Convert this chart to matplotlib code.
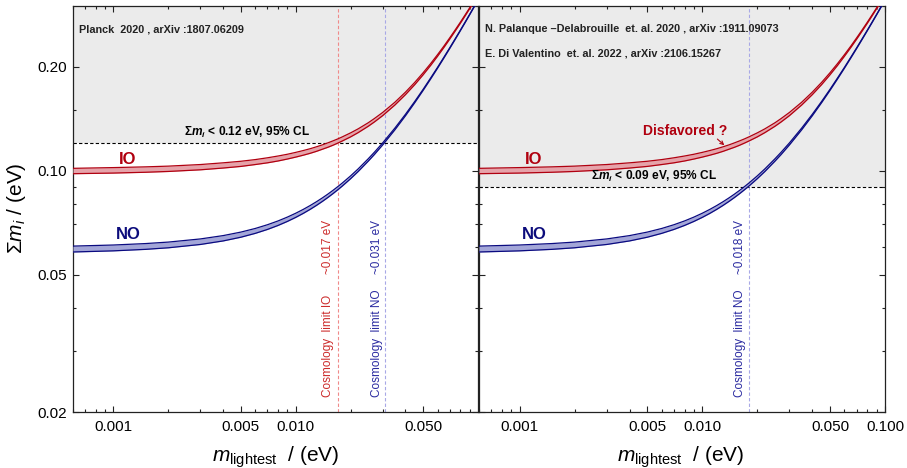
import matplotlib
matplotlib.use("Agg")
import matplotlib.pyplot as plt
from matplotlib.ticker import NullFormatter

plt.rcParams["font.family"] = ["Liberation Sans", "DejaVu Sans"]
plt.rcParams["mathtext.fontset"] = "custom"
plt.rcParams["mathtext.rm"] = "Liberation Sans"
plt.rcParams["mathtext.it"] = "Liberation Sans:italic"
plt.rcParams["mathtext.bf"] = "Liberation Sans:bold"
plt.rcParams["mathtext.bfit"] = "Liberation Sans:italic:bold"

# ── Data ─────────────────────────────────────────────────────────────────────
m_lightest = [0.0006, 0.001, 0.0015, 0.002, 0.003, 0.004, 0.005, 0.006, 0.007, 0.008,
              0.009, 0.01, 0.011, 0.012, 0.013, 0.014, 0.015, 0.016, 0.017, 0.018,
              0.02, 0.022, 0.025, 0.027, 0.03, 0.035, 0.04, 0.045, 0.05, 0.055,
              0.06, 0.065, 0.07, 0.075, 0.08, 0.085, 0.09, 0.095, 0.1]
no_low = [0.05815, 0.05859, 0.05918, 0.0598, 0.06114, 0.0626, 0.06417, 0.06584, 0.06759, 0.06941,
          0.0713, 0.07324, 0.07523, 0.07727, 0.07935, 0.08147, 0.08362, 0.0858, 0.08802, 0.09025,
          0.09481, 0.09945, 0.1066, 0.1114, 0.1188, 0.1314, 0.1443, 0.1575, 0.1709, 0.1845,
          0.1982, 0.2121, 0.2261, 0.2402, 0.2544, 0.2686, 0.2830, 0.2974, 0.3118]
no_high = [0.06048, 0.06092, 0.06151, 0.06212, 0.06344, 0.06487, 0.0664, 0.06803, 0.06975, 0.07153,
           0.07339, 0.0753, 0.07726, 0.07927, 0.08132, 0.08341, 0.08553, 0.08769, 0.08988, 0.09209,
           0.0966, 0.1012, 0.1083, 0.1131, 0.1204, 0.1329, 0.1457, 0.1588, 0.1721, 0.1857,
           0.1993, 0.2132, 0.2271, 0.2412, 0.2553, 0.2695, 0.2838, 0.2982, 0.3126]
io_low = [0.09803, 0.09844, 0.09897, 0.0995, 0.1006, 0.1018, 0.1029, 0.1042, 0.1054, 0.1067,
          0.1081, 0.1095, 0.1109, 0.1123, 0.1138, 0.1154, 0.1169, 0.1185, 0.1202, 0.1219,
          0.1253, 0.1289, 0.1345, 0.1384, 0.1444, 0.155, 0.1661, 0.1776, 0.1896, 0.2019,
          0.2146, 0.2275, 0.2406, 0.2539, 0.2673, 0.2809, 0.2947, 0.3085, 0.3225]
io_high = [0.1016, 0.1021, 0.1026, 0.1031, 0.1042, 0.1054, 0.1065, 0.1077, 0.109, 0.1103,
           0.1116, 0.113, 0.1144, 0.1158, 0.1173, 0.1188, 0.1204, 0.122, 0.1236, 0.1253,
           0.1287, 0.1322, 0.1377, 0.1416, 0.1475, 0.1579, 0.1689, 0.1803, 0.1922, 0.2044,
           0.2169, 0.2296, 0.2427, 0.2559, 0.2692, 0.2828, 0.2964, 0.3102, 0.3241]

panel_limits = [0.12, 0.09]           # cosmological bound on sum of masses
panel_refs = [
    ["Planck  2020 , arXiv :1807.06209"],
    ["N. Palanque \u2013Delabrouille  et. al. 2020 , arXiv :1911.09073",
     "E. Di Valentino  et. al. 2022 , arXiv :2106.15267"],
]
io_limits = [0.017, None]
no_limits = [0.031, 0.018]

x_major = [[0.001, 0.005, 0.01, 0.05], [0.001, 0.005, 0.01, 0.05, 0.1]]
x_major_labels = [["0.001", "0.005", "0.010", "0.050"],
                  ["0.001", "0.005", "0.010", "0.050", "0.100"]]
y_major = [0.02, 0.05, 0.1, 0.2]
y_major_labels = ["0.02", "0.05", "0.10", "0.20"]
y_minor = [0.03, 0.04, 0.06, 0.07, 0.08, 0.09, 0.15]

# ── Styles ───────────────────────────────────────────────────────────────────
io_edge, io_fill = "#b00010", "#e6a3aa"
no_edge, no_fill = "#0a0a80", "#a3a6d8"
io_text, no_text = "#b0000f", "#0c0c7c"
io_vline, no_vline = "#f08a8a", "#a8a8e6"
io_vtext, no_vtext = "#cc2a2a", "#2a2aa0"
shade = "#ebebeb"

x_minor = [k * 10.0**e for e in (-4, -3, -2) for k in range(2, 10)
           if 0.0006 <= k * 10.0**e < 0.1 and k != 5]

fig = plt.figure(figsize=(9.07, 4.68), dpi=100)
bot, height = (468 - 412) / 468, (412 - 6) / 468
axes = [fig.add_axes([73 / 907, bot, 405 / 907, height]),
        fig.add_axes([479 / 907, bot, 406 / 907, height])]

for k, ax in enumerate(axes):
    ax.set_xscale("log")
    ax.set_yscale("log")
    ax.set_xlim(0.0006, 0.1)
    ax.set_ylim(0.02, 0.3)

    lim = panel_limits[k]
    ax.axhspan(lim, 0.3, color=shade, zorder=0, lw=0)
    ax.axhline(lim, color="black", lw=0.8, ls=(0, (3, 2)), zorder=2)

    # bands
    ax.fill_between(m_lightest, io_low, io_high, color=io_fill, lw=0, zorder=3)
    ax.plot(m_lightest, io_low, color=io_edge, lw=0.9, zorder=4)
    ax.plot(m_lightest, io_high, color=io_edge, lw=0.9, zorder=4)
    ax.fill_between(m_lightest, no_low, no_high, color=no_fill, lw=0, zorder=3)
    ax.plot(m_lightest, no_low, color=no_edge, lw=0.9, zorder=4)
    ax.plot(m_lightest, no_high, color=no_edge, lw=0.9, zorder=4)

    # cosmology limits on m_lightest
    if io_limits[k] is not None:
        v = io_limits[k]
        ax.axvline(v, color=io_vline, lw=0.8, ls=(0, (3, 2)), zorder=1.5)
        ax.text(v * 0.88, 0.0221, "Cosmology  limit IO", rotation=90, color=io_vtext,
                fontsize=8.5, ha="center", va="bottom")
        ax.text(v * 0.88, 0.0502, f"~{v:.3f} eV", rotation=90, color=io_vtext,
                fontsize=8.5, ha="center", va="bottom")
    v = no_limits[k]
    ax.axvline(v, color=no_vline, lw=0.8, ls=(0, (3, 2)), zorder=1.5)
    ax.text(v * 0.897, 0.0221, "Cosmology  limit NO", rotation=90, color=no_vtext,
            fontsize=8.5, ha="center", va="bottom")
    ax.text(v * 0.897, 0.0502, f"~{v:.3f} eV", rotation=90, color=no_vtext,
            fontsize=8.5, ha="center", va="bottom")

    # labels
    ax.text(0.00119, 0.108, "IO", color=io_text, fontsize=12, fontweight="bold",
            ha="center", va="center", zorder=5)
    ax.text(0.0012, 0.0652, "NO", color=no_text, fontsize=12, fontweight="bold",
            ha="center", va="center", zorder=5)
    ax.text(0.00542, lim * 1.02,
            r"$\mathbf{\Sigma}\mathbfit{m_i}$ < " + f"{lim:.2f}" + " eV, 95% CL",
            fontsize=8.6, fontweight="bold", ha="center", va="bottom", zorder=5)
    for j, ref in enumerate(panel_refs[k]):
        ax.text(0.014, 0.943 - 0.061 * j, ref, transform=ax.transAxes, fontsize=7.8,
                fontweight="bold", ha="left", va="center", color="#222222")

    ax.set_xticks(x_major[k], x_major_labels[k])
    ax.set_xticks(x_minor, minor=True)
    ax.set_yticks(y_major, y_major_labels if k == 0 else [""] * len(y_major))
    ax.set_yticks(y_minor, minor=True)
    ax.xaxis.set_minor_formatter(NullFormatter())
    ax.yaxis.set_minor_formatter(NullFormatter())
    ax.tick_params(axis="both", which="both", direction="in", top=True, right=True,
                   labelsize=11, color="#222222", width=0.8)
    ax.tick_params(axis="both", which="major", length=4.5)
    ax.tick_params(axis="both", which="minor", length=2.5)
    ax.tick_params(axis="x", pad=6)
    ax.tick_params(axis="y", pad=4)
    for s in ax.spines.values():
        s.set_color("#222222")
        s.set_linewidth(0.9)

axes[1].text(0.00805, 0.1305, "Disfavored ?", color=io_text, fontsize=10,
             fontweight="bold", ha="center", va="center", zorder=5)
axes[1].annotate("", xy=(0.0132, 0.1185), xytext=(0.0121, 0.1235),
                 arrowprops=dict(arrowstyle="->", color=io_edge, lw=0.8,
                                 shrinkA=0, shrinkB=0, mutation_scale=6), zorder=5)

xlabel = r"$m_{\mathrm{lightest}}$  / (eV)"
fig.text(276 / 907, 1 - 457 / 468, xlabel, fontsize=15, ha="center", va="center")
fig.text(681 / 907, 1 - 457 / 468, xlabel, fontsize=15, ha="center", va="center")
fig.text(17 / 907, 1 - 208 / 468, r"$\Sigma m_i$ / (eV)", fontsize=15, rotation=90,
         ha="center", va="center")

fig.savefig("out.png", dpi=100)
